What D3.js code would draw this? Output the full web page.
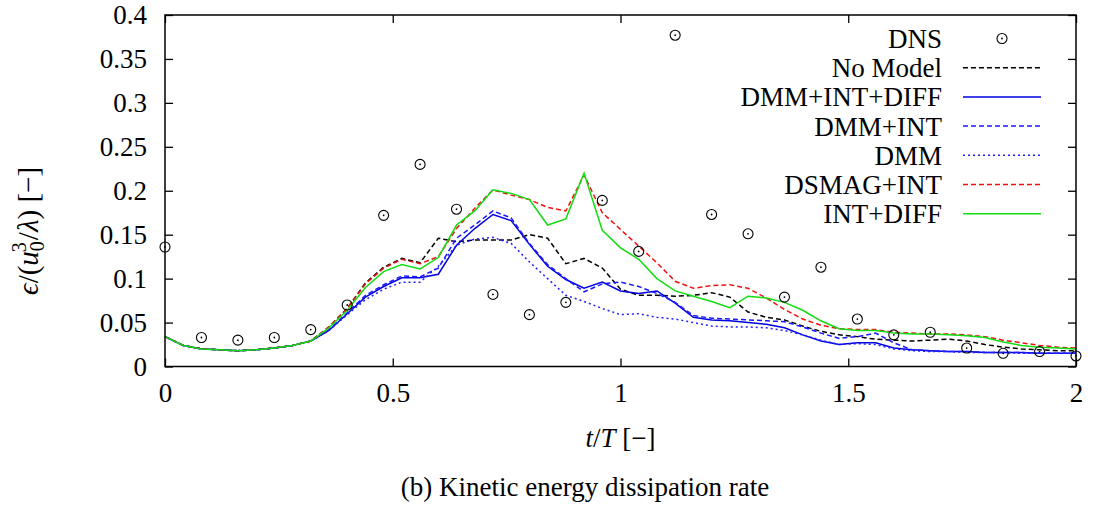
<!DOCTYPE html>
<html>
<head>
<meta charset="utf-8">
<script src="https://cdn.jsdelivr.net/npm/d3@7"></script>
<style>
  html, body { margin: 0; padding: 0; background: #fff; }
  svg { display: block; }
</style>
</head>
<body>
<svg id="chart" width="1099" height="510"></svg>
<script>
// Sampling times of the LES runs (t/T)
const tLes = [0.00,0.04,0.08,0.12,0.16,0.20,0.24,0.28,0.32,0.36,
              0.40,0.44,0.48,0.52,0.56,0.60,0.64,0.68,0.72,0.76,
              0.80,0.84,0.88,0.92,0.96,1.00,1.04,1.08,1.12,1.16,
              1.20,1.24,1.28,1.32,1.36,1.40,1.44,1.48,1.52,1.56,
              1.60,1.64,1.68,1.72,1.76,1.80,1.84,1.88,1.92,1.96,2.00];

// Sampling times and values of the DNS reference
const tDns = [0.00,0.08,0.16,0.24,0.32,0.40,0.48,0.56,0.64,0.72,0.80,0.88,0.96,
              1.04,1.12,1.20,1.28,1.36,1.44,1.52,1.60,1.68,1.76,1.84,1.92,2.00];
const dns  = [0.136,0.033,0.030,0.033,0.042,0.070,0.172,0.230,0.179,0.082,0.059,0.073,0.189,
              0.131,0.377,0.173,0.151,0.079,0.113,0.054,0.036,0.039,0.021,0.015,0.017,0.012];

// Dissipation rate of each LES model
const noModel = [0.034,0.024,0.020,0.019,0.018,0.019,0.021,0.024,0.029,0.045,
                 0.066,0.095,0.113,0.123,0.118,0.146,0.142,0.144,0.144,0.144,
                 0.150,0.146,0.117,0.123,0.112,0.088,0.081,0.081,0.080,0.081,
                 0.084,0.079,0.062,0.056,0.053,0.046,0.040,0.036,0.034,0.031,
                 0.030,0.029,0.030,0.031,0.029,0.025,0.022,0.020,0.019,0.018,0.018];
const dmmIntDiff = [0.034,0.024,0.020,0.019,0.018,0.019,0.021,0.024,0.029,0.041,
                 0.060,0.079,0.091,0.101,0.101,0.105,0.138,0.157,0.173,0.166,
                 0.139,0.114,0.099,0.089,0.096,0.086,0.083,0.086,0.072,0.056,
                 0.053,0.052,0.050,0.048,0.044,0.036,0.029,0.025,0.027,0.027,
                 0.021,0.019,0.018,0.017,0.017,0.016,0.016,0.016,0.015,0.015,0.015];
const dmmInt = [0.034,0.024,0.020,0.019,0.018,0.019,0.021,0.024,0.029,0.042,
                 0.061,0.081,0.093,0.103,0.102,0.112,0.146,0.161,0.177,0.169,
                 0.140,0.116,0.100,0.085,0.094,0.096,0.091,0.083,0.073,0.058,
                 0.055,0.054,0.053,0.052,0.051,0.045,0.038,0.032,0.034,0.038,
                 0.027,0.019,0.018,0.017,0.017,0.016,0.016,0.016,0.015,0.015,0.015];
const dmm = [0.034,0.024,0.020,0.019,0.018,0.019,0.021,0.024,0.029,0.041,
                 0.059,0.076,0.088,0.096,0.096,0.114,0.138,0.145,0.147,0.140,
                 0.119,0.100,0.081,0.074,0.066,0.059,0.060,0.056,0.054,0.050,
                 0.046,0.045,0.045,0.044,0.041,0.036,0.030,0.025,0.026,0.025,
                 0.020,0.018,0.017,0.017,0.016,0.016,0.016,0.015,0.015,0.015,0.015];
const dsmagInt = [0.034,0.024,0.020,0.019,0.018,0.019,0.021,0.024,0.029,0.045,
                 0.066,0.094,0.112,0.122,0.117,0.125,0.157,0.180,0.201,0.195,
                 0.190,0.181,0.177,0.218,0.175,0.156,0.137,0.118,0.097,0.089,
                 0.092,0.093,0.089,0.078,0.065,0.054,0.047,0.043,0.042,0.042,
                 0.039,0.038,0.037,0.037,0.036,0.034,0.030,0.027,0.024,0.022,0.021];
const intDiff = [0.034,0.024,0.020,0.019,0.018,0.019,0.021,0.024,0.029,0.044,
                 0.064,0.090,0.108,0.116,0.111,0.124,0.161,0.177,0.201,0.197,
                 0.190,0.161,0.168,0.220,0.155,0.135,0.122,0.100,0.086,0.080,
                 0.074,0.067,0.080,0.078,0.073,0.064,0.052,0.043,0.041,0.041,
                 0.038,0.037,0.037,0.036,0.035,0.033,0.028,0.024,0.022,0.021,0.020];

// Axis ticks
const xTicks = [0, 0.5, 1, 1.5, 2];
const xTickLabels = ["0", "0.5", "1", "1.5", "2"];
const yTicks = [0, 0.05, 0.1, 0.15, 0.2, 0.25, 0.3, 0.35, 0.4];
const yTickLabels = ["0", "0.05", "0.1", "0.15", "0.2", "0.25", "0.3", "0.35", "0.4"];

// Line series, in legend order after DNS
const series = [
  { name: "No Model",     values: noModel,    color: "#000000", dash: "5,3" },
  { name: "DMM+INT+DIFF", values: dmmIntDiff, color: "#0000e0", dash: null  },
  { name: "DMM+INT",      values: dmmInt,     color: "#1a1aff", dash: "5,3" },
  { name: "DMM",          values: dmm,        color: "#2020ff", dash: "2,3" },
  { name: "DSMAG+INT",    values: dsmagInt,   color: "#ee1111", dash: "5,3" },
  { name: "INT+DIFF",     values: intDiff,    color: "#11dd11", dash: null  }
];

(function draw() {
  const SERIF = "'Liberation Serif', 'Times New Roman', 'DejaVu Serif', serif";
  const svg = d3.select("#chart").style("font-family", SERIF);
  const pL = 165, pR = 1076, pT = 15, pB = 366.5;
  const x = d3.scaleLinear().domain([0, 2]).range([pL, pR]);
  const y = d3.scaleLinear().domain([0, 0.4]).range([pB, pT]);
  const FS = 27;

  // Axes with inward ticks on all four sides
  const gL = svg.append("g").attr("transform", `translate(${pL},0)`)
    .call(d3.axisLeft(y).tickValues(yTicks).tickFormat((d, i) => yTickLabels[i])
          .tickSize(-8).tickPadding(18));
  const gR = svg.append("g").attr("transform", `translate(${pR},0)`)
    .call(d3.axisRight(y).tickValues(yTicks).tickFormat("").tickSize(-8));
  const gB = svg.append("g").attr("transform", `translate(0,${pB})`)
    .call(d3.axisBottom(x).tickValues(xTicks).tickFormat((d, i) => xTickLabels[i])
          .tickSize(-8).tickPadding(16));
  const gT = svg.append("g").attr("transform", `translate(0,${pT})`)
    .call(d3.axisTop(x).tickValues(xTicks).tickFormat("").tickSize(-8));
  [gL, gR, gB, gT].forEach(g => {
    g.attr("font-family", null).attr("font-size", null);
    g.select(".domain").remove();
    g.selectAll(".tick line").attr("stroke", "#000").attr("stroke-width", 1.3);
    g.selectAll("text").style("font-family", SERIF).style("font-size", FS + "px")
      .attr("fill", "#000");
  });

  // Model curves
  const line = d3.line().x((d, i) => x(tLes[i])).y(d => y(d));
  series.forEach(s => {
    svg.append("path")
      .datum(s.values)
      .attr("d", line)
      .attr("fill", "none")
      .attr("stroke", s.color)
      .attr("stroke-width", 1.5)
      .attr("stroke-dasharray", s.dash);
  });

  // DNS markers: circle with a centre dot
  function dnsMarker(g, cx, cy) {
    g.append("circle").attr("cx", cx).attr("cy", cy).attr("r", 5)
      .attr("fill", "none").attr("stroke", "#000").attr("stroke-width", 1.1);
    g.append("circle").attr("cx", cx).attr("cy", cy).attr("r", 0.9).attr("fill", "#000");
  }
  const gDns = svg.append("g");
  dns.forEach((v, i) => dnsMarker(gDns, x(tDns[i]), y(v)));

  // Frame
  svg.append("rect")
    .attr("x", pL).attr("y", pT)
    .attr("width", pR - pL).attr("height", pB - pT)
    .attr("fill", "none").attr("stroke", "#000").attr("stroke-width", 1.5);

  // Helper for text in the document font
  function txt(parent) {
    return parent.append("text").style("font-family", SERIF)
      .style("font-size", FS + "px").attr("fill", "#000");
  }

  // Legend
  const legX = 942, legY0 = 38.5, legDy = 29.2, sampleX0 = 963, sampleX1 = 1041;
  const leg = svg.append("g");
  const legendEntries = [{ name: "DNS", marker: true }].concat(series);
  legendEntries.forEach((s, i) => {
    const cy = legY0 + i * legDy;
    txt(leg).attr("x", legX).attr("y", cy).attr("dy", "0.35em")
      .attr("text-anchor", "end").text(s.name);
    if (s.marker) {
      dnsMarker(leg, (sampleX0 + sampleX1) / 2, cy);
    } else {
      leg.append("line").attr("x1", sampleX0).attr("x2", sampleX1)
        .attr("y1", cy).attr("y2", cy)
        .attr("stroke", s.color).attr("stroke-width", 1.5)
        .attr("stroke-dasharray", s.dash);
    }
  });

  // Y-axis label: epsilon / (u_0^3 / lambda) [-]
  const yl = txt(svg)
    .attr("transform", "translate(38,231) rotate(-90)")
    .attr("text-anchor", "middle")
    .style("font-size", "29px");
  yl.append("tspan").attr("font-style", "italic").text("\u03f5");
  yl.append("tspan").text("/(");
  yl.append("tspan").attr("font-style", "italic").text("u");
  yl.append("tspan").style("font-size", "20px").attr("dy", 6).text("0");
  yl.append("tspan").style("font-size", "20px").attr("dx", -11).attr("dy", -18).text("3");
  yl.append("tspan").attr("dx", 2).attr("dy", 12).text("/");
  yl.append("tspan").attr("font-style", "italic").text("\u03bb");
  yl.append("tspan").text(") [\u2212]");

  // X-axis label: t/T [-]
  const xl = txt(svg).attr("x", (pL + pR) / 2).attr("y", 447)
    .attr("text-anchor", "middle");
  xl.append("tspan").attr("font-style", "italic").text("t");
  xl.append("tspan").text("/");
  xl.append("tspan").attr("font-style", "italic").text("T");
  xl.append("tspan").text(" [\u2212]");

  // Caption
  txt(svg).attr("x", 585).attr("y", 496)
    .attr("text-anchor", "middle")
    .text("(b) Kinetic energy dissipation rate");
})();
</script>
</body>
</html>
